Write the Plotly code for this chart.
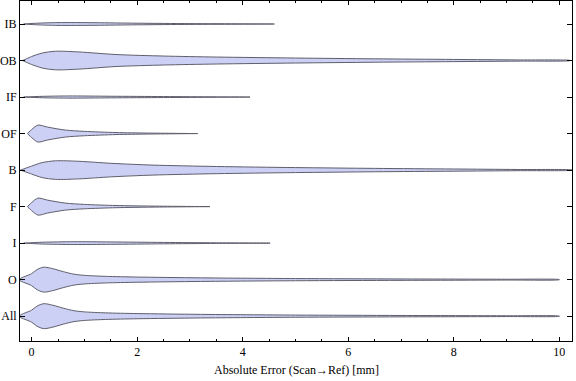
import plotly.graph_objects as go

# Categories, bottom to top
categories = ["All", "O", "I", "F", "B", "OF", "IF", "OB", "IB"]

# Violin profiles: error value [mm] and relative half-width (density) at that value
all_x = [-0.22, 0.0, 0.1, 0.23, 0.4, 0.6, 0.8, 1.0, 1.4, 2.0, 3.2, 5.0, 7.0, 9.0, 10.0]
all_w = [0.8, 6.0, 10.0, 12.5, 11.0, 8.0, 5.5, 4.3, 3.3, 2.6, 1.8, 1.1, 0.7, 0.4, 0.1]
o_x = [-0.22, 0.0, 0.1, 0.23, 0.4, 0.6, 0.8, 1.0, 1.4, 2.0, 3.2, 5.0, 7.0, 9.0, 10.0]
o_w = [0.8, 6.0, 10.0, 12.5, 11.0, 8.0, 5.5, 4.3, 3.3, 2.6, 1.8, 1.1, 0.7, 0.4, 0.1]
i_x = [-0.15, 0.2, 0.8, 1.5, 2.5, 3.5, 4.52]
i_w = [0.0, 0.9, 1.4, 1.2, 0.7, 0.3, 0.0]
f_x = [-0.08, 0.0, 0.12, 0.3, 0.64, 1.0, 1.6, 2.3, 3.38]
f_w = [0.0, 4.0, 8.5, 6.5, 3.5, 2.2, 1.1, 0.5, 0.0]
b_x = [-0.21, 0.0, 0.2, 0.45, 0.9, 1.5, 2.3, 3.5, 5.0, 6.5, 8.0, 9.2, 10.25]
b_w = [0.0, 4.0, 7.5, 9.3, 8.8, 6.8, 5.0, 3.6, 2.5, 1.7, 1.1, 0.6, 0.1]
of_x = [-0.08, 0.0, 0.12, 0.3, 0.64, 1.0, 1.6, 2.2, 3.15]
of_w = [0.0, 4.0, 8.5, 6.5, 3.5, 2.2, 1.0, 0.5, 0.0]
if_x = [-0.15, 0.2, 0.7, 1.5, 2.5, 3.5, 4.14]
if_w = [0.0, 0.7, 1.1, 0.8, 0.5, 0.2, 0.0]
ob_x = [-0.17, 0.0, 0.2, 0.45, 0.9, 1.6, 2.5, 3.5, 5.0, 6.5, 8.0, 9.2, 10.2]
ob_w = [0.0, 4.0, 7.5, 9.3, 8.6, 6.0, 4.5, 3.5, 2.5, 1.7, 1.1, 0.6, 0.1]
ib_x = [-0.15, 0.1, 0.5, 1.2, 2.0, 3.0, 4.0, 4.6]
ib_w = [0.0, 0.8, 1.4, 1.3, 0.8, 0.4, 0.2, 0.0]

profiles = [(all_x, all_w), (o_x, o_w), (i_x, i_w), (f_x, f_w), (b_x, b_w),
            (of_x, of_w), (if_x, if_w), (ob_x, ob_w), (ib_x, ib_w)]

x_ticks = [0, 2, 4, 6, 8, 10]
x_title = "Absolute Error (Scan→Ref) [mm]"
WIDTH_SCALE = 1 / 36.6  # density units -> category spacing

FILL = "rgb(204,208,245)"
EDGE = "rgb(95,95,108)"

fig = go.Figure()
for k, (xs, ws) in enumerate(profiles):
    upper = [k + w * WIDTH_SCALE for w in ws]
    lower = [k - w * WIDTH_SCALE for w in ws]
    px = list(xs) + list(reversed(xs)) + [xs[0]]
    py = upper + list(reversed(lower)) + [upper[0]]
    fig.add_trace(go.Scatter(
        x=px, y=py, mode="lines", fill="toself", fillcolor=FILL,
        line=dict(color=EDGE, width=1, shape="spline", smoothing=0.8),
        hoverinfo="skip", showlegend=False))

font = dict(family="Liberation Serif", size=12, color="black")
fig.update_layout(
    width=576, height=381,
    margin=dict(l=20, r=4, t=1, b=40, autoexpand=False),
    paper_bgcolor="white", plot_bgcolor="white",
    font=font, showlegend=False,
)
fig.add_annotation(
    text=x_title, xref="paper", yref="paper", x=0.5, y=0,
    yshift=-29, yanchor="middle", showarrow=False, font=font)
fig.update_xaxes(
    range=[-0.22, 10.24], tickvals=x_ticks, ticktext=[str(v) for v in x_ticks],
    ticks="inside", ticklen=4, tickcolor="black", tickwidth=1,
    minor=dict(dtick=0.5, tick0=0, ticks="inside", ticklen=2, tickcolor="black"),
    showline=True, linecolor="black", linewidth=1, mirror="ticks",
    showgrid=False, zeroline=False, automargin=False,
)
fig.update_yaxes(
    range=[-0.68, 8.63], tickvals=list(range(len(categories))), ticktext=categories,
    ticks="inside", ticklen=5, tickcolor="black", tickwidth=1,
    showline=True, linecolor="black", linewidth=1, mirror="ticks",
    showgrid=False, zeroline=False, automargin=False,
)

fig.write_html("out.html", config={"displayModeBar": False},
               post_script="document.body.style.margin='0';document.body.style.overflow='hidden';")
